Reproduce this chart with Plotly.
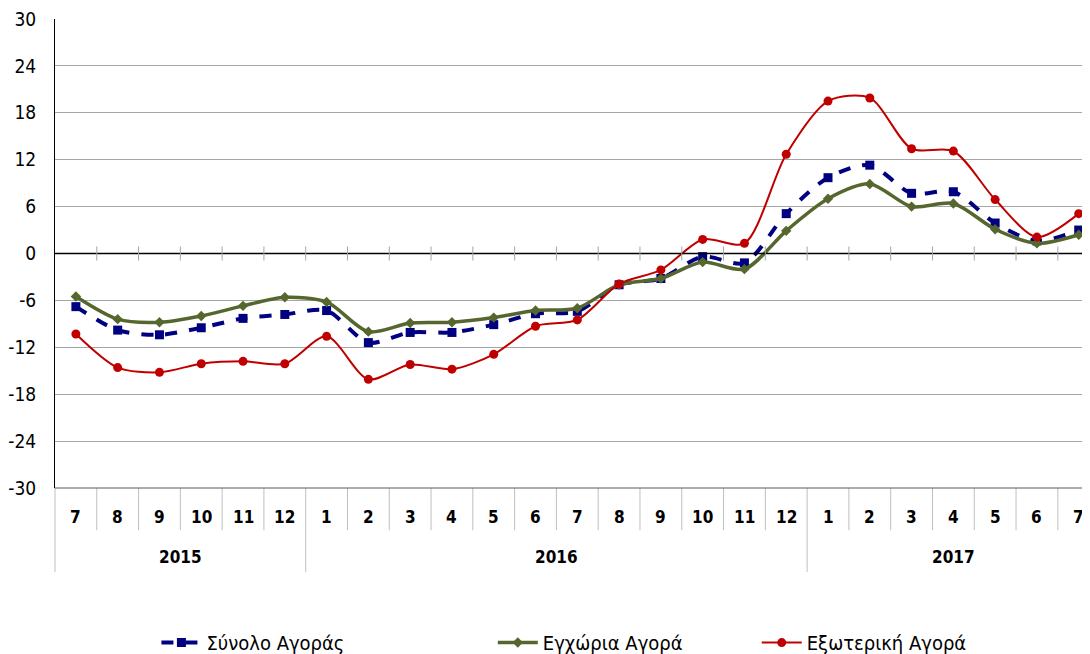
import plotly.graph_objects as go

months = ["7", "8", "9", "10", "11", "12", "1", "2", "3", "4", "5", "6", "7",
          "8", "9", "10", "11", "12", "1", "2", "3", "4", "5", "6", "7"]
years = ["2015", "2016", "2017"]
year_spans = [(0, 5), (6, 17), (18, 24)]
y_ticks = [-30, -24, -18, -12, -6, 0, 6, 12, 18, 24, 30]
y_tick_text = ["-30", "-24", "-18", "-12", "-6", "0", "6", "12", "18", "24", "30"]

total = [-6.8, -9.8, -10.4, -9.5, -8.3, -7.8, -7.3, -11.4, -10.1, -10.1, -9.1, -7.7, -7.4,
         -4.0, -3.2, -0.4, -1.2, 5.1, 9.7, 11.3, 7.7, 7.9, 3.9, 1.6, 3.0]
domestic = [-5.5, -8.4, -8.8, -8.0, -6.7, -5.6, -6.2, -10.0, -8.9, -8.8, -8.2, -7.3, -7.0,
            -4.0, -3.2, -1.1, -2.0, 2.9, 7.0, 8.9, 6.0, 6.4, 3.1, 1.3, 2.4]
external = [-10.3, -14.6, -15.2, -14.1, -13.8, -14.1, -10.6, -16.1, -14.2, -14.8, -12.9, -9.3, -8.5,
            -3.9, -2.1, 1.8, 1.3, 12.7, 19.5, 19.9, 13.4, 13.1, 6.9, 2.1, 5.1]

names = ["Σύνολο Αγοράς", "Εγχώρια Αγορά", "Εξωτερική Αγορά"]
x = list(range(len(months)))

FONT = "Liberation Sans Narrow, DejaVu Sans Condensed, Liberation Sans, sans-serif"

fig = go.Figure()
fig.add_trace(go.Scatter(x=x, y=total, name=names[0], mode="lines+markers", legend="legend",
                         line=dict(color="#000080", width=4, dash="dash", shape="spline", smoothing=0.8),
                         marker=dict(symbol="square", size=9, color="#000080")))
fig.add_trace(go.Scatter(x=x, y=domestic, name=names[1], mode="lines+markers", legend="legend2",
                         line=dict(color="#55672E", width=3.5, shape="spline", smoothing=0.8),
                         marker=dict(symbol="diamond", size=8, color="#55672E")))
fig.add_trace(go.Scatter(x=x, y=external, name=names[2], mode="lines+markers", legend="legend3",
                         line=dict(color="#C00000", width=2, shape="spline", smoothing=0.8),
                         marker=dict(symbol="circle", size=9, color="#C00000")))

shapes = []
shapes.append(dict(type="line", xref="paper", yref="y", x0=0, x1=1, y0=0, y1=0,
                   line=dict(color="black", width=1.5), layer="above"))
n = len(months)
for i in range(n):
    b = i + 0.5
    shapes.append(dict(type="line", xref="x", yref="y", x0=b, x1=b, y0=-0.9, y1=0.9,
                       line=dict(color="#A6A6A6", width=1)))
year_bounds = [s[1] + 0.5 for s in year_spans]
for i in range(n):
    b = i + 0.5
    is_year = b in year_bounds
    shapes.append(dict(type="line", xref="x", yref="paper", x0=b, x1=b, y0=0,
                       y1=(-0.179 if is_year else -0.09),
                       line=dict(color="#BFBFBF", width=1)))
shapes.append(dict(type="line", xref="paper", yref="paper", x0=0, x1=0, y0=0, y1=-0.179,
                   line=dict(color="#BFBFBF", width=1)))
shapes.append(dict(type="line", xref="paper", yref="paper", x0=0, x1=1, y0=0, y1=0,
                   line=dict(color="#595959", width=1)))

annotations = []
for i, m in enumerate(months):
    annotations.append(dict(x=i, y=-0.062, xref="x", yref="paper", yanchor="middle",
                            text="<b>%s</b>" % m, showarrow=False,
                            font=dict(size=17, color="black", family=FONT)))
for yr, (a, b) in zip(years, year_spans):
    annotations.append(dict(x=(a + b) / 2, y=-0.147, xref="x", yref="paper", yanchor="middle",
                            text="<b>%s</b>" % yr, showarrow=False,
                            font=dict(size=17, color="black", family=FONT)))

leg_common = dict(orientation="h", xanchor="left", y=-0.288, yanchor="top",
                  font=dict(size=20, family=FONT, color="black"), itemwidth=40,
                  bgcolor="rgba(0,0,0,0)")

fig.update_layout(
    width=1082, height=646,
    margin=dict(l=47, r=0, t=11, b=166, autoexpand=False),
    paper_bgcolor="white", plot_bgcolor="white",
    font=dict(family=FONT, size=17, color="black"),
    showlegend=True,
    legend=dict(x=0.098, **leg_common),
    legend2=dict(x=0.423, **leg_common),
    legend3=dict(x=0.678, **leg_common),
    xaxis=dict(range=[-0.5, 24.27], showticklabels=False, showgrid=False, zeroline=False,
               showline=False, ticks=""),
    yaxis=dict(range=[-30, 30], tickvals=y_ticks, ticktext=y_tick_text, showgrid=True,
               gridcolor="#A6A6A6", gridwidth=1, zeroline=False, showline=True,
               linecolor="black", linewidth=1, ticks="", ticklabelstandoff=14,
               ticklabeloverflow="allow", tickfont=dict(size=19, family=FONT)),
    shapes=shapes, annotations=annotations,
)

fig.write_html("out.html")
